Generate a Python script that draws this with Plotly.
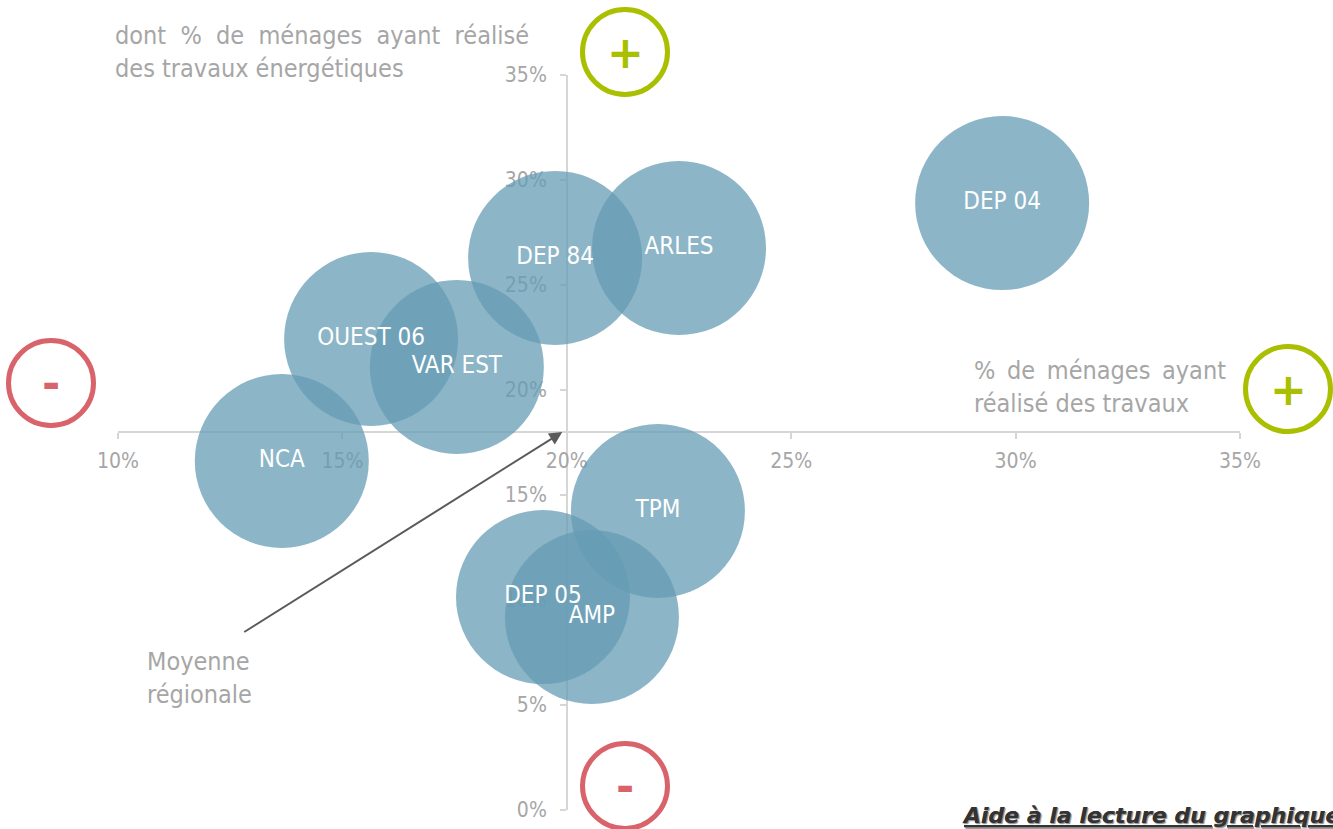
import plotly.graph_objects as go

# ---- data ----
zones = ["DEP 04", "ARLES", "DEP 84", "OUEST 06", "VAR EST", "NCA", "TPM", "DEP 05", "AMP"]
pct_travaux = [29.7, 22.5, 19.74, 15.64, 17.55, 13.65, 22.03, 19.47, 20.56]
pct_energetiques = [28.9, 26.76, 26.29, 22.43, 21.1, 16.62, 14.24, 10.14, 9.19]
bubble_sizes = [174, 174, 174, 174, 174, 174, 174, 174, 174]
moyenne_x = 20.0
moyenne_y = 18.0
x_ticks = [10, 15, 20, 25, 30, 35]
y_ticks = [0, 5, 10, 15, 20, 25, 30, 35]

W, H = 1333, 829
FONT = "DejaVu Sans Condensed, Roboto, sans-serif"
GRAY = "#A6A6A6"
AXIS = "#D6D6D6"
GREEN = "#A9BF00"
RED = "#D9636B"


def px(x):
    return x / W


def py(y):
    return 1 - y / H


x_dom = [px(118), px(1240)]
y_dom = [py(810), py(75)]
x_rng = [10, 35]
y_rng = [0, 35]
xpos = y_dom[0] + (moyenne_y - y_rng[0]) / (y_rng[1] - y_rng[0]) * (y_dom[1] - y_dom[0])
ypos = x_dom[0] + (moyenne_x - x_rng[0]) / (x_rng[1] - x_rng[0]) * (x_dom[1] - x_dom[0])

fig = go.Figure()
fig.add_trace(go.Scatter(
    x=pct_travaux, y=pct_energetiques, mode="markers+text",
    text=zones, textposition="middle center",
    textfont=dict(family=FONT, size=24, color="white"),
    marker=dict(size=bubble_sizes, sizemode="diameter", color="rgb(101,156,180)",
                opacity=0.75, line=dict(width=0)),
    cliponaxis=False, hoverinfo="text", showlegend=False,
))

shapes = []
annotations = []


def sign_circle(cx, cy, color, sym):
    r = 42.5
    shapes.append(dict(type="circle", xref="paper", yref="paper",
                       x0=px(cx - r), x1=px(cx + r), y0=py(cy + r), y1=py(cy - r),
                       line=dict(color=color, width=5), fillcolor="rgba(0,0,0,0)"))
    annotations.append(dict(xref="paper", yref="paper", x=px(cx), y=py(cy), text="<b>%s</b>" % sym,
                            showarrow=False, xanchor="center", yanchor="middle",
                            font=dict(family="DejaVu Sans", size=44, color=color)))


sign_circle(625, 52, GREEN, "+")
sign_circle(1288, 389, GREEN, "+")
sign_circle(51, 383, RED, "-")
sign_circle(625, 786, RED, "-")

wide = " &nbsp;"
thin = " \u2009"
annotations.append(dict(xref="paper", yref="paper", x=px(113), y=py(52), xanchor="left", yanchor="middle",
                        align="left", showarrow=False,
                        text=wide.join("dont % de ménages ayant réalisé".split(" ")) + "<br>des travaux énergétiques",
                        font=dict(family=FONT, size=25, color=GRAY)))
annotations.append(dict(xref="paper", yref="paper", x=px(972), y=py(387), xanchor="left", yanchor="middle",
                        align="left", showarrow=False,
                        text=thin.join("% de ménages ayant".split(" ")) + "<br>réalisé des travaux",
                        font=dict(family=FONT, size=25, color=GRAY)))
annotations.append(dict(xref="paper", yref="paper", x=px(145), y=py(678), xanchor="left", yanchor="middle",
                        align="left", showarrow=False,
                        text="Moyenne<br>régionale",
                        font=dict(family=FONT, size=25, color=GRAY)))
annotations.append(dict(xref="paper", yref="paper", x=px(960), y=py(815), xanchor="left", yanchor="middle",
                        align="left", showarrow=False,
                        text="<b><i><u>Aide à la lecture du graphique</u></i></b>",
                        font=dict(family="DejaVu Sans", size=22, color="#333333",
                                  shadow="1px 1px 1px #9a9a9a")))
# arrow to the regional average
annotations.append(dict(xref="x", yref="y", axref="x", ayref="y",
                        x=moyenne_x - 0.1, y=moyenne_y, ax=12.78, ay=8.43,
                        text="", showarrow=True, arrowhead=2, arrowsize=1.3,
                        arrowwidth=2, arrowcolor="#5A5A5A"))

fig.update_layout(
    width=W, height=H, margin=dict(l=0, r=0, t=0, b=0, autoexpand=False),
    paper_bgcolor="white", plot_bgcolor="white",
    shapes=shapes, annotations=annotations,
    xaxis=dict(domain=x_dom, range=x_rng, anchor="free", position=xpos, automargin=False,
               tickvals=x_ticks, ticktext=["%d%%" % v for v in x_ticks],
               showgrid=False, zeroline=False, showline=True, linecolor=AXIS, linewidth=1.5,
               ticks="outside", ticklen=6, tickcolor=AXIS, tickwidth=1.5,
               tickfont=dict(family=FONT, size=21, color=GRAY), ticklabelstandoff=4,
               layer="below traces", fixedrange=True),
    yaxis=dict(domain=y_dom, range=y_rng, anchor="free", position=ypos, automargin=False,
               tickvals=y_ticks, ticktext=["%d%%" % v for v in y_ticks],
               showgrid=False, zeroline=False, showline=True, linecolor=AXIS, linewidth=1.5,
               ticks="outside", ticklen=6, tickcolor=AXIS, tickwidth=1.5,
               tickfont=dict(family=FONT, size=21, color=GRAY), ticklabelstandoff=9,
               layer="below traces", fixedrange=True),
)

fig.write_html("out.html", config={"displayModeBar": False},
               post_script="document.body.style.margin='0';document.body.style.overflow='hidden';")
